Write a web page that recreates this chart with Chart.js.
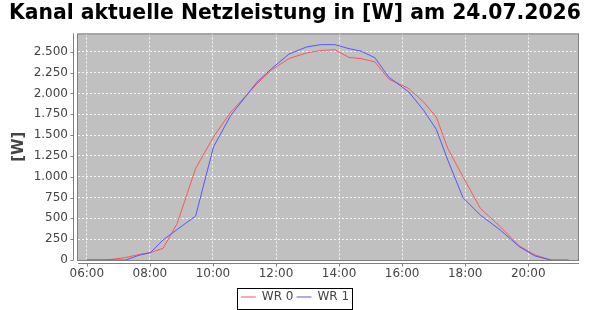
<!DOCTYPE html>
<html>
<head>
<meta charset="utf-8">
<script src="https://cdn.jsdelivr.net/npm/chart.js@4/dist/chart.umd.min.js"></script>
<style>
  html, body { margin: 0; padding: 0; background: #fff; }
  #wrap { width: 590px; height: 310px; }
</style>
</head>
<body>
<div id="wrap"><canvas id="chart" width="590" height="310"></canvas></div>
<script>
const chartTitle = 'Kanal aktuelle Netzleistung in [W] am 24.07.2026';
const seriesNames = ['WR 0', 'WR 1'];

// sample times
const times = ['06:00', '06:38', '07:14', '07:41', '08:01', '08:25', '08:52', '09:27', '10:01', '10:34',
               '11:24', '11:52', '12:25', '12:58', '13:25', '13:52', '14:19', '14:42', '15:08', '15:35',
               '16:13', '16:41', '17:05', '17:27', '17:56', '18:29', '19:07', '19:43', '20:13', '20:43', '21:17'];

const wr0 = [0, 0, 30, 68, 88, 140, 439, 1098, 1477, 1776,
             2116, 2283, 2419, 2485, 2515, 2525, 2431, 2418, 2379, 2170,
             2058, 1896, 1717, 1337, 998, 619, 399, 168, 60, 0, null];

const wr1 = [0, 0, 0, 60, 88, 240, 367, 527, 1357, 1737,
             2136, 2300, 2473, 2557, 2585, 2585, 2537, 2507, 2429, 2194,
             2016, 1796, 1569, 1198, 746, 539, 359, 160, 48, 0, 0];

const xTicks = ['06:00', '08:00', '10:00', '12:00', '14:00', '16:00', '18:00', '20:00'];
const yTicks = [0, 250, 500, 750, 1000, 1250, 1500, 1750, 2000, 2250, 2500];

function toHours(t) {
    const [h, m] = t.split(':').map(Number);
    return h + m / 60;
}

function fmtHours(v) {
    const h = Math.floor(v + 1e-6);
    const m = Math.round((v - h) * 60);
    return String(h).padStart(2, '0') + ':' + String(m).padStart(2, '0');
}

function fmtNum(v) {
    return String(Math.round(v)).replace(/\B(?=(\d{3})+(?!\d))/g, '.');
}

function toPoints(values) {
    return times.map((t, i) => ({ x: toHours(t), y: values[i] }));
}

const axisGray = '#808080';
const labelColor = '#444444';

// gray plot background, outline, offset axes (JFreeChart look), legend frame
const plotDecor = {
    id: 'plotDecor',
    beforeDraw(chart) {
        const { ctx, chartArea: a } = chart;
        ctx.save();
        ctx.fillStyle = '#c0c0c0';
        ctx.fillRect(a.left, a.top, a.right - a.left, a.bottom - a.top);
        ctx.restore();
    },
    afterDatasetsDraw(chart) {
        const { ctx, chartArea: a, scales } = chart;
        ctx.save();
        ctx.strokeStyle = axisGray;
        ctx.lineWidth = 1;
        ctx.strokeRect(a.left - 0.5, a.top + 0.5, a.right - a.left, a.bottom - a.top);

        // y axis line + ticks
        const yx = a.left - 4.5;
        ctx.beginPath();
        ctx.moveTo(yx, a.top);
        ctx.lineTo(yx, a.bottom);
        scales.y.ticks.forEach(t => {
            const py = Math.round(scales.y.getPixelForValue(t.value)) + 0.5;
            ctx.moveTo(yx, py);
            ctx.lineTo(yx - 3, py);
        });
        // x axis line + ticks
        const xy = a.bottom + 3.5;
        ctx.moveTo(a.left, xy);
        ctx.lineTo(a.right, xy);
        scales.x.ticks.forEach(t => {
            const px = Math.round(scales.x.getPixelForValue(t.value)) + 0.5;
            ctx.moveTo(px, xy);
            ctx.lineTo(px, xy + 3);
        });
        ctx.stroke();
        ctx.restore();
    },
    afterDraw(chart) {
        const lg = chart.legend;
        if (!lg || !lg.legendHitBoxes.length) return;
        const hb = lg.legendHitBoxes;
        const left = Math.min(...hb.map(b => b.left)) - 4;
        const right = Math.max(...hb.map(b => b.left + b.width)) + 3;
        const top = hb[0].top - 3.5;
        const ctx = chart.ctx;
        ctx.save();
        ctx.strokeStyle = '#000';
        ctx.lineWidth = 1;
        ctx.strokeRect(Math.round(left) + 0.5, Math.round(top) + 0.5, Math.round(right - left), 21);
        ctx.restore();
    }
};

new Chart(document.getElementById('chart').getContext('2d'), {
    type: 'line',
    data: {
        datasets: [{
            label: seriesNames[0],
            data: toPoints(wr0),
            borderColor: '#ff5555',
            backgroundColor: '#ff5555',
            borderWidth: 1,
            pointRadius: 0,
            tension: 0,
            order: 1
        }, {
            label: seriesNames[1],
            data: toPoints(wr1),
            borderColor: '#5555ff',
            backgroundColor: '#5555ff',
            borderWidth: 1,
            pointRadius: 0,
            tension: 0,
            order: 0
        }]
    },
    options: {
        responsive: false,
        animation: false,
        spanGaps: false,
        layout: { padding: 0 },
        plugins: {
            title: {
                display: true,
                text: chartTitle,
                color: '#000',
                font: { family: 'DejaVu Sans', size: 20.35, weight: 'bold' },
                padding: { top: 1, bottom: 8 }
            },
            legend: {
                position: 'bottom',
                maxHeight: 22,
                labels: {
                    usePointStyle: true,
                    pointStyle: 'line',
                    pointStyleWidth: 15,
                    padding: 3,
                    color: labelColor,
                    font: { family: 'DejaVu Sans', size: 12 },
                    sort: (a, b) => a.datasetIndex - b.datasetIndex
                }
            },
            tooltip: { enabled: false }
        },
        scales: {
            x: {
                type: 'linear',
                min: 5.72,
                max: 21.61,
                afterBuildTicks: scale => {
                    scale.ticks = xTicks.map(t => ({ value: toHours(t) }));
                },
                afterFit: scale => {
                    scale.height = 310 - 260 - scale.chart.legend.height;
                },
                ticks: {
                    callback: v => fmtHours(v),
                    color: labelColor,
                    padding: 7,
                    maxRotation: 0,
                    autoSkip: false,
                    font: { family: 'DejaVu Sans', size: 12 }
                },
                grid: {
                    color: 'rgba(255,255,255,0.85)',
                    drawTicks: false,
                    lineWidth: 1
                },
                border: { display: false, dash: [2, 2] }
            },
            y: {
                min: 0,
                max: 2720,
                afterBuildTicks: scale => {
                    scale.ticks = yTicks.map(v => ({ value: v }));
                },
                afterFit: scale => { scale.width = 78; },
                ticks: {
                    callback: v => fmtNum(v),
                    color: labelColor,
                    padding: 10,
                    font: { family: 'DejaVu Sans', size: 12 }
                },
                grid: {
                    color: 'rgba(255,255,255,0.85)',
                    drawTicks: false,
                    lineWidth: 1
                },
                border: { display: false, dash: [2, 2] },
                title: {
                    display: true,
                    text: '[W]',
                    color: labelColor,
                    font: { family: 'DejaVu Sans', size: 15, weight: 'bold' },
                    padding: { top: 10, bottom: 0 }
                }
            },
            // empty right-hand margin so the plot ends at x=579 while title and legend stay centred
            yRight: {
                position: 'right',
                display: true,
                afterFit: scale => { scale.width = 11; },
                ticks: { display: false },
                grid: { display: false },
                border: { display: false }
            }
        }
    },
    plugins: [plotDecor]
});
</script>
</body>
</html>
